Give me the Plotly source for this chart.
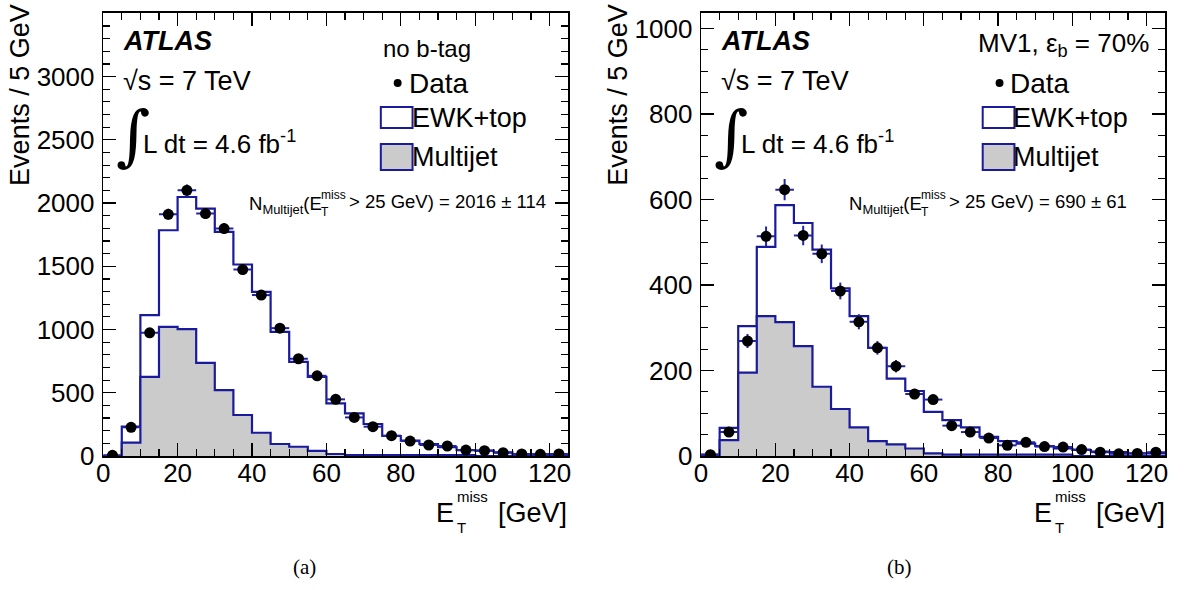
import math
import plotly.graph_objects as go

W, H = 1185, 590
HV = 575  # vertical pixel extent actually used by the page layout

# ---------------- data ----------------
bin_edges = [5 * i for i in range(26)]          # 0 .. 125 GeV
bin_centers = [2.5 + 5 * i for i in range(25)]

data_a = [5, 227, 974, 1911, 2101, 1917, 1798, 1474, 1272, 1011, 769, 634, 448,
          305, 232, 161, 118, 87, 79, 47, 42, 26, 16, 13, 16]
total_a = [2, 232, 1114, 1785, 2048, 1956, 1772, 1514, 1298, 982, 745, 626, 416,
           337, 253, 158, 121, 95, 69, 47, 42, 29, 16, 16, 13]
multijet_a = [0, 105, 626, 1021, 1003, 737, 521, 324, 184, 95, 73, 40, 16,
              8, 8, 8, 8, 8, 8, 8, 0, 0, 0, 0, 0]

data_b = [3, 56, 269, 514, 623, 516, 473, 386, 314, 253, 210, 145, 132,
          71, 56, 42, 25, 32, 22, 21, 15, 9, 5, 6, 9]
total_b = [3, 66, 304, 489, 587, 545, 483, 392, 327, 253, 181, 152, 103,
           84, 67, 45, 35, 29, 23, 17.5, 14, 10.5, 9, 6, 6]
multijet_b = [0, 37, 195, 327, 313, 257, 162, 110, 67, 35, 27, 17.5, 6,
              3, 3, 3, 3, 3, 3, 3, 0, 0, 0, 0, 0]

yticks_a = [0, 500, 1000, 1500, 2000, 2500, 3000, 3500]
yticks_b = [0, 200, 400, 600, 800, 1000]
xticks = [0, 20, 40, 60, 80, 100, 120]

labels_a = {"sel": "no b-tag", "nmj": "> 25 GeV) = 2016 ± 114", "cap": "(a)"}
labels_b = {"sel": "MV1, ε<sub>b</sub> = 70%", "nmj": "> 25 GeV) = 690 ± 61",
            "cap": "(b)"}

# ---------------- style ----------------
FONT = "Liberation Sans"
BLUE = "#1a1a9c"
ERRC = "#2424a8"
GRAY = "#cbcbcb"


def X(p):
    return p / W


def Y(p):
    return 1 - p / HV


fig = go.Figure()


def step(vals):
    return bin_edges, list(vals) + [vals[-1]]


def add_panel(data, total, mj, xa, ya):
    ex, ey = step(total)
    fig.add_trace(go.Scatter(x=ex, y=ey, mode="lines", line_shape="hv",
                             line=dict(color=BLUE, width=2.2), fill="tozeroy",
                             fillcolor="white", xaxis=xa, yaxis=ya,
                             showlegend=False, hoverinfo="skip"))
    mx, my = step(mj)
    fig.add_trace(go.Scatter(x=mx, y=my, mode="lines", line_shape="hv",
                             line=dict(color=BLUE, width=2.2), fill="tozeroy",
                             fillcolor=GRAY, xaxis=xa, yaxis=ya,
                             showlegend=False, hoverinfo="skip"))
    fig.add_trace(go.Scatter(x=bin_centers, y=data, mode="markers",
                             marker=dict(color="black", size=11),
                             error_x=dict(type="constant", value=2.5, width=0,
                                          color=ERRC, thickness=2),
                             error_y=dict(type="data",
                                          array=[math.sqrt(v) for v in data],
                                          width=0, color=ERRC, thickness=2),
                             xaxis=xa, yaxis=ya, showlegend=False))


add_panel(data_a, total_a, multijet_a, "x", "y")
add_panel(data_b, total_b, multijet_b, "x2", "y2")

ydom = [Y(456), Y(12.7)]

axis_common = dict(showline=True, linecolor="black", linewidth=1.5,
                   mirror="allticks", ticks="inside", ticklen=13,
                   tickwidth=1.2, tickcolor="black", showgrid=False,
                   zeroline=False, tickfont=dict(family=FONT, size=26,
                                                 color="black"))
xminor = dict(ticks="inside", ticklen=7, dtick=5, tickcolor="black",
              tickwidth=1.2)

fig.update_layout(
    width=W, height=H, margin=dict(l=0, r=0, t=0, b=0),
    paper_bgcolor="white", plot_bgcolor="white", showlegend=False,
    xaxis=dict(domain=[97 / W, 566 / W], range=[0, 125], anchor="y",
               tickvals=xticks, minor=xminor, ticklabelstandoff=-7,
               **axis_common),
    yaxis=dict(domain=ydom, range=[0, 3505], anchor="x", tickvals=yticks_a,
               minor=dict(ticks="inside", ticklen=7, dtick=100,
                          tickcolor="black", tickwidth=1.2),
               ticklabelstandoff=2, **axis_common),
    xaxis2=dict(domain=[700 / W, 1168 / W], range=[0, 125], anchor="y2",
                tickvals=xticks, minor=xminor, ticklabelstandoff=-7,
                **axis_common),
    yaxis2=dict(domain=ydom, range=[0, 1037], anchor="x2", tickvals=yticks_b,
                minor=dict(ticks="inside", ticklen=7, dtick=50,
                           tickcolor="black", tickwidth=1.2),
                ticklabelstandoff=2, **axis_common),
)

ann = []
shapes = []


def text(x, y, t, size, xanchor="left", yanchor="middle", family=FONT,
         angle=0):
    ann.append(dict(x=X(x), y=Y(y), xref="paper", yref="paper", text=t,
                    showarrow=False, xanchor=xanchor, yanchor=yanchor,
                    textangle=angle, borderpad=0,
                    font=dict(family=family, size=size, color="black")))


for off, lab in ((0, labels_a), (603, labels_b)):
    # y-axis title
    text(13 + off, 3, "Events / 5 GeV", 27, xanchor="center", yanchor="top",
         angle=-90)
    # x-axis title
    text(432 + off, 513, "E", 27)
    text(453 + off, 496, "miss", 15)
    text(453 + off, 527, "T", 15)
    text(566 + off, 513, "[GeV]", 27, xanchor="right")
    # ATLAS labels
    text(116 + off, 41, "<b><i>ATLAS</i></b>", 27)
    text(116 + off, 81, "√s = 7 TeV", 27)
    text(127 + off, 135, "∫", 66, xanchor="center", family="DejaVu Serif")
    text(136 + off, 143, "L dt = 4.6 fb<sup>-1</sup>", 26)
    # selection label
    if off == 0:
        text(424, 48, lab["sel"], 24, xanchor="center")
    else:
        text(1153, 44, lab["sel"], 26, xanchor="right")
    # legend
    lx = 377 + off + (4 if off else 0)
    shapes.append(dict(type="circle", xref="paper", yref="paper",
                       x0=X(lx + 13), x1=X(lx + 21), y0=Y(87), y1=Y(79),
                       fillcolor="black", line=dict(width=0)))
    text(lx + 27, 83, "Data", 28)
    shapes.append(dict(type="rect", xref="paper", yref="paper",
                       x0=X(lx), x1=X(lx + 32), y0=Y(128), y1=Y(107),
                       fillcolor="white", line=dict(color=BLUE, width=2)))
    text(lx + 30, 118, "EWK+top", 27)
    shapes.append(dict(type="rect", xref="paper", yref="paper",
                       x0=X(lx), x1=X(lx + 32), y0=Y(170), y1=Y(144),
                       fillcolor=GRAY, line=dict(color=BLUE, width=2)))
    text(lx + 30, 157, "Multijet", 27)
    # N multijet
    nx = 243 + off + (2 if off else 0)
    text(nx, 205, "N<sub>Multijet</sub>(E", 18.5)
    text(nx + 73, 195, "miss", 12)
    text(nx + 73, 212, "T", 12)
    text(nx + 101, 202, lab["nmj"], 18.5)
    # caption
    text(300 + off - 3 * (off > 0), 567, lab["cap"], 21, xanchor="center",
         family="Liberation Serif")

fig.update_layout(annotations=ann, shapes=shapes)
fig.write_html(
    "out.html",
    config={"displayModeBar": False, "staticPlot": True},
    post_script=("document.documentElement.style.margin='0px';"
                 "document.body.style.margin='0px';"
                 "document.documentElement.style.overflow='hidden';"
                 "document.body.style.overflow='hidden';"),
)
